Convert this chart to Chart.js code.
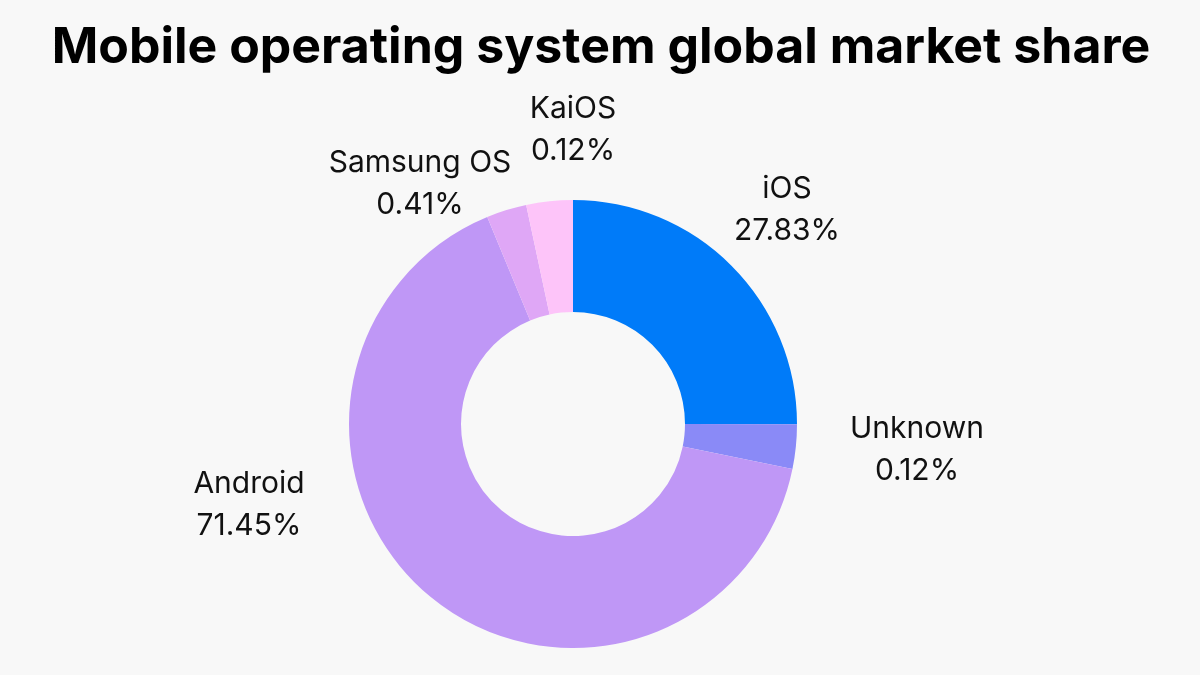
<!DOCTYPE html>
<html>
<head>
<meta charset="utf-8">
<script src="https://cdn.jsdelivr.net/npm/chart.js@4"></script>
<style>
  html, body { margin: 0; padding: 0; background: #f8f8f8; }
  canvas { display: block; }
</style>
</head>
<body>
<canvas id="chart" width="1200" height="675"></canvas>
<script>
const TITLE = "Mobile operating system global market share";

// order as drawn, clockwise from 12 o'clock
const labels = ["iOS", "Unknown", "Android", "Samsung OS", "KaiOS"];
// share printed in each label
const shares = [27.83, 0.12, 71.45, 0.41, 0.12];
// slice size as drawn in the picture (small slices are drawn bigger than their share)
const arcSizes = [25.0, 3.2, 65.5, 2.9, 3.35];
const colors = ["#007bf9", "#8a8af7", "#bf97f6", "#dfa7f6", "#fdc4f9"];

// label anchor relative to the ring center: [dx, baseline dy of first line]
const labelAnchors = [[214, -226], [344, 14], [-324, 69], [-153, -252], [0, -306]];

const el = (id) => document.getElementById(id);

const textPlugin = {
  id: "textPlugin",
  afterDraw(chart) {
    const { ctx } = chart;
    const arc = chart.getDatasetMeta(0).data[0];
    if (!arc) return;
    const cx = arc.x, cy = arc.y;
    ctx.save();
    ctx.fillStyle = "#000";
    ctx.textAlign = "center";
    ctx.textBaseline = "alphabetic";
    ctx.font = "bold 50px Inter, 'Noto Sans', sans-serif";
    ctx.fillText(TITLE, 601, 63);

    ctx.fillStyle = "#111";
    ctx.font = "30px Inter, 'Noto Sans', sans-serif";
    labels.forEach((name, i) => {
      const [dx, dy] = labelAnchors[i];
      ctx.fillText(name, cx + dx, cy + dy);
      ctx.fillText(shares[i].toFixed(2) + "%", cx + dx, cy + dy + 42);
    });
    ctx.restore();
  }
};

new Chart(el("chart"), {
  type: "doughnut",
  data: {
    labels,
    datasets: [{
      data: arcSizes,
      backgroundColor: colors,
      borderWidth: 0,
      hoverOffset: 0
    }]
  },
  options: {
    responsive: false,
    animation: false,
    cutout: "50%",
    layout: { padding: { left: 349, right: 403, top: 200, bottom: 27 } },
    plugins: {
      legend: { display: false },
      title: { display: false },
      tooltip: { enabled: false }
    }
  },
  plugins: [textPlugin]
});
</script>
</body>
</html>
